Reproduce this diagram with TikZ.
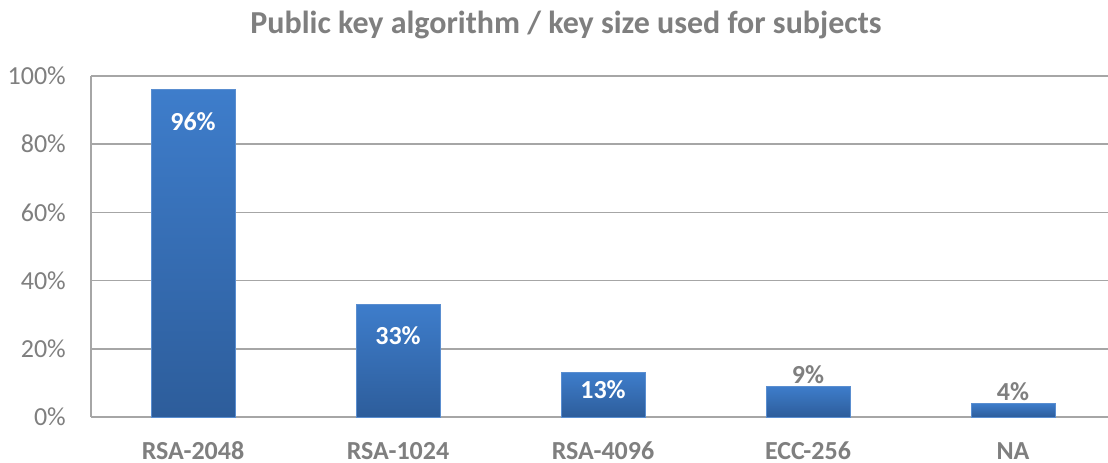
\documentclass[tikz,border=0pt]{standalone}
\usepackage{fontspec}
\setmainfont{Carlito}
\definecolor{txtgray}{HTML}{7F7F7F}
\definecolor{gridgray}{HTML}{A6A6A6}
\definecolor{bartop}{HTML}{3E7DCB}
\definecolor{barbot}{HTML}{2D5D9B}
\definecolor{baredge}{HTML}{5A8ED0}
\begin{document}
\begin{tikzpicture}[x=1pt,y=-1pt,
  ticklabel/.style={anchor=east,text=txtgray,font=\fontsize{26}{30}\selectfont,inner sep=0pt},
  catlabel/.style={anchor=center,text=txtgray,font=\fontsize{26}{30}\selectfont\bfseries,inner sep=0pt},
  inlabel/.style={anchor=center,text=white,font=\fontsize{26}{30}\selectfont\bfseries,inner sep=0pt},
  outlabel/.style={anchor=south,text=txtgray,font=\fontsize{26}{30}\selectfont\bfseries,inner sep=0pt},
  gridline/.style={draw=gridgray,line width=1.6pt},
  barstyle/.style={top color=bartop,bottom color=barbot,draw=baredge,line width=0.8pt}]
\useasboundingbox (0,0) rectangle (1108,463);
\fill[white] (0,0) rectangle (1108,463);
% title
\node[text=txtgray,font=\fontsize{32}{38}\selectfont\bfseries,inner sep=0pt] (title) at (566,25) {Public key algorithm / key size used for subjects};
% gridlines and ticks
\foreach \v/\lab in {0/0\%,20/20\%,40/40\%,60/60\%,80/80\%,100/100\%}{
  \pgfmathsetmacro{\yy}{417-3.41*\v}
  \draw[gridline] (91,\yy) -- (1108,\yy);
  \node[ticklabel] (tick\v) at (66,\yy) {\lab};
}
\draw[gridline] (91,76) -- (91,417);
% bars
\foreach \i/\val/\name in {0/96/RSA-2048,1/33/RSA-1024,2/13/RSA-4096,3/9/ECC-256,4/4/NA}{
  \pgfmathsetmacro{\cx}{193+205*\i}
  \pgfmathsetmacro{\top}{417-3.41*\val}
  \path[barstyle] (\cx-42,\top) rectangle (\cx+42,417);
  \node[catlabel] (cat\i) at (\cx,451) {\name};
}
\node[inlabel] (v0) at (193,122) {96\%};
\node[inlabel] (v1) at (398,336) {33\%};
\node[inlabel] (v2) at (603,390) {13\%};
\node[outlabel] (v3) at (808,384) {9\%};
\node[outlabel] (v4) at (1013,401) {4\%};
\end{tikzpicture}
\end{document}
